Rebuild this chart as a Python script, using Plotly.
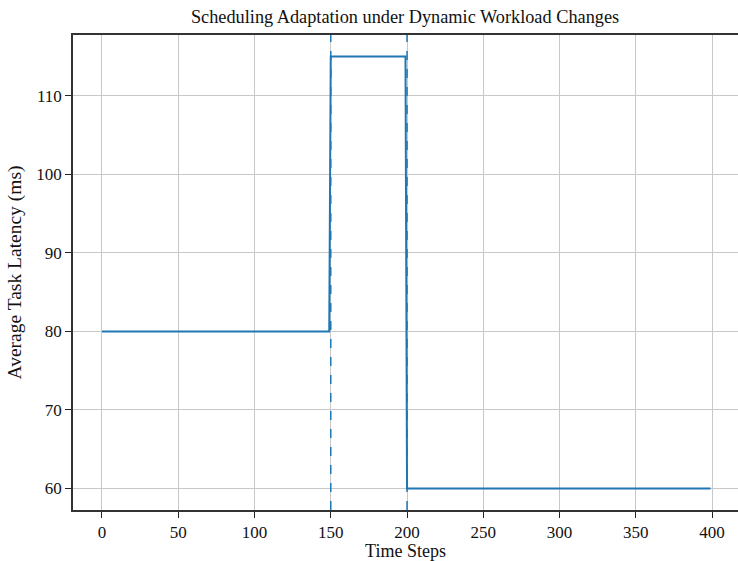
import plotly.graph_objects as go

# Data
time_steps = [0, 149, 150, 199, 200, 399]
latency_ms = [80, 80, 115, 115, 60, 60]
change_points = [150, 200]
x_ticks = [0, 50, 100, 150, 200, 250, 300, 350, 400]
y_ticks = [60, 70, 80, 90, 100, 110]

BLUE = "#1f77b4"
FONT = "Liberation Serif, Times New Roman, serif"

fig = go.Figure()
fig.add_trace(go.Scatter(
    x=time_steps, y=latency_ms, mode="lines",
    line=dict(color=BLUE, width=2), showlegend=False,
))
for cp in change_points:
    fig.add_vline(x=cp, line=dict(color=BLUE, width=1.5, dash="dash"))

fig.update_layout(
    width=738, height=561,
    margin=dict(l=73, r=0, t=35, b=51),
    plot_bgcolor="white", paper_bgcolor="white",
    font=dict(family=FONT, size=17, color="#111"),
    title=dict(text="Scheduling Adaptation under Dynamic Workload Changes",
               x=(155 + 582) / 2 / 738, xanchor="center", y=1 - 17 / 561,
               yanchor="middle", xref="paper", font=dict(size=18.3)),
)
fig.update_xaxes(
    range=[-19, 417], tickvals=x_ticks, ticks="outside", ticklen=6,
    tickcolor="#222", showline=True, linecolor="#333", linewidth=1.5,
    mirror=True, showgrid=True, gridcolor="#c8c8c8", gridwidth=1,
    zeroline=False,
    title=dict(text="Time Steps", standoff=5, font=dict(size=18)),
)
fig.update_yaxes(
    range=[57.25, 117.75], tickvals=y_ticks, ticks="outside", ticklen=6,
    tickcolor="#222", showline=True, linecolor="#333", linewidth=1.5,
    showgrid=True, gridcolor="#c8c8c8", gridwidth=1, zeroline=False,
    title=dict(text="Average Task Latency (ms)", standoff=10, font=dict(size=19.5)),
)

fig.write_html("out.html")
